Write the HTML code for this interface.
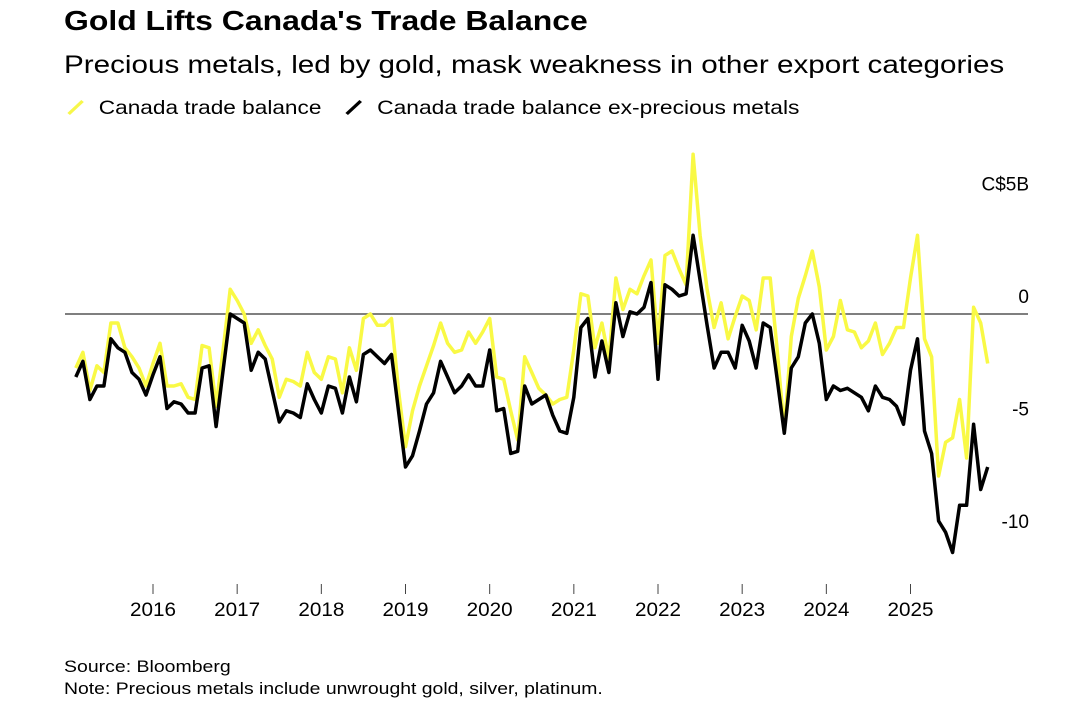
<!DOCTYPE html>
<html><head><meta charset="utf-8"><style>
body{margin:0;background:#fff;font-family:"Liberation Sans",Arial,sans-serif;}
#wrap{position:relative;width:1080px;height:710px;overflow:hidden;}
.t{position:absolute;white-space:nowrap;color:#000;transform-origin:0 0;}
</style></head><body>
<div id="wrap">
<div class="t" style="left:64px;top:5px;font-size:28px;font-weight:bold;transform:scaleX(1.14);">Gold Lifts Canada's Trade Balance</div>
<div class="t" style="left:64px;top:51px;font-size:25px;transform:scaleX(1.185);">Precious metals, led by gold, mask weakness in other export categories</div>
<div class="t" style="left:64px;top:97px;font-size:19.5px;transform:scaleX(1.16);"><svg width="20" height="18" style="vertical-align:-2px;margin-right:10px"><line x1="4" y1="16" x2="16" y2="3" stroke="#f7f74a" stroke-width="3"/></svg>Canada trade balance</div>
<div class="t" style="left:342px;top:97px;font-size:19.5px;transform:scaleX(1.17);"><svg width="20" height="18" style="vertical-align:-2px;margin-right:10px"><line x1="4" y1="16" x2="16" y2="3" stroke="#000" stroke-width="3"/></svg>Canada trade balance ex-precious metals</div>
<svg id="chart" width="1080" height="710" style="position:absolute;left:0;top:0"></svg>
<div class="t" style="left:64px;top:658px;font-size:16.5px;transform:scaleX(1.18);">Source: Bloomberg</div>
<div class="t" style="left:64px;top:680px;font-size:16.5px;transform:scaleX(1.175);">Note: Precious metals include unwrought gold, silver, platinum.</div>
</div>
<script>
const startMonth = [2015, 2];
const tradeBalance = [-2.4,-1.7,-3.4,-2.3,-2.6,-0.4,-0.4,-1.5,-1.9,-2.4,-3.2,-2.2,-1.3,-3.2,-3.2,-3.1,-3.7,-3.8,-1.4,-1.5,-4.1,-1.6,1.1,0.6,0.0,-1.3,-0.7,-1.4,-2.0,-3.7,-2.9,-3.0,-3.2,-1.7,-2.6,-2.9,-1.9,-2.0,-3.5,-1.5,-2.5,-0.2,0.0,-0.5,-0.5,-0.2,-3.4,-5.9,-4.3,-3.2,-2.3,-1.4,-0.4,-1.3,-1.7,-1.6,-0.8,-1.3,-0.8,-0.2,-2.8,-2.9,-4.3,-5.6,-1.9,-2.6,-3.3,-3.6,-4.0,-3.8,-3.7,-1.6,0.9,0.8,-1.5,-0.4,-2.0,1.6,0.2,1.1,0.9,1.7,2.4,-1.3,2.6,2.8,2.0,1.3,7.1,3.5,1.1,-0.6,0.5,-1.1,-0.1,0.8,0.6,-0.7,1.6,1.6,-1.6,-5.2,-1.0,0.7,1.7,2.8,1.2,-1.6,-1.0,0.6,-0.7,-0.8,-1.5,-1.2,-0.4,-1.8,-1.3,-0.6,-0.6,1.6,3.5,-1.1,-1.9,-7.2,-5.7,-5.5,-3.8,-6.4,0.3,-0.4,-2.2];
const exPrecious = [-2.8,-2.1,-3.8,-3.2,-3.2,-1.1,-1.5,-1.7,-2.6,-2.9,-3.6,-2.7,-1.9,-4.2,-3.9,-4.0,-4.4,-4.4,-2.4,-2.3,-5.0,-2.5,0.0,-0.2,-0.4,-2.5,-1.7,-2.0,-3.4,-4.8,-4.3,-4.4,-4.6,-3.1,-3.8,-4.4,-3.2,-3.3,-4.4,-2.8,-3.9,-1.8,-1.6,-1.9,-2.2,-1.8,-4.3,-6.8,-6.3,-5.2,-4.0,-3.5,-2.1,-2.8,-3.5,-3.2,-2.7,-3.2,-3.2,-1.6,-4.3,-4.2,-6.2,-6.1,-3.2,-4.0,-3.8,-3.6,-4.5,-5.2,-5.3,-3.7,-0.6,-0.2,-2.8,-1.2,-2.6,0.5,-1.0,0.1,0.0,0.3,1.4,-2.9,1.3,1.1,0.8,0.9,3.5,1.5,-0.5,-2.4,-1.7,-1.7,-2.4,-0.5,-1.2,-2.4,-0.4,-0.6,-2.9,-5.3,-2.4,-1.9,-0.4,0.0,-1.3,-3.8,-3.2,-3.4,-3.3,-3.5,-3.7,-4.3,-3.2,-3.7,-3.8,-4.1,-4.9,-2.5,-1.1,-5.2,-6.2,-9.2,-9.7,-10.6,-8.5,-8.5,-4.9,-7.8,-6.8];
const yTicks = [5, 0, -5, -10];
const yTickLabels = ["C$5B", "0", "-5", "-10"];
const xYears = [2016,2017,2018,2019,2020,2021,2022,2023,2024,2025];

const NS = "http://www.w3.org/2000/svg";
const svg = document.getElementById('chart');
function yScale(v){ return 314 - 22.5 * v; }
function xScaleDate(yr, mo){ return 153 + ((yr - 2016) * 12 + (mo - 1)) * 7.014; }
function xIdx(i){ return xScaleDate(startMonth[0], startMonth[1] + i); }
function mk(tag, attrs){ const e = document.createElementNS(NS, tag); for (const k in attrs) e.setAttribute(k, attrs[k]); svg.appendChild(e); return e; }

const zl = mk('line', {x1:65, x2:1028, y1:yScale(0), y2:yScale(0), stroke:'#555', 'stroke-width':1.5});



yTicks.forEach((v, i) => {
  const t = mk('text', {x:1029, y:yScale(v) - 11, 'text-anchor':'end', 'font-size':19, 'font-family':'Liberation Sans, Arial, sans-serif', fill:'#000'});
  t.textContent = yTickLabels[i];
  
  
});

xYears.forEach(yr => {
  const x = xScaleDate(yr, 1);
  const tk = mk('line', {x1:x, x2:x, y1:584, y2:594, stroke:'#444', 'stroke-width':1});
  
  
  const t = mk('text', {x:x, y:616, 'text-anchor':'middle', 'font-size':19, 'font-family':'Liberation Sans, Arial, sans-serif', fill:'#000', 'textLength':46, 'lengthAdjust':'spacingAndGlyphs'});
  t.textContent = String(yr);
  
  
});

function path(arr){ return arr.map((v,i)=>(i?'L':'M')+xIdx(i).toFixed(1)+','+yScale(v).toFixed(1)).join(''); }
const yl = mk('path', {d:path(tradeBalance), fill:'none', stroke:'#f9f945', 'stroke-width':3.5, 'stroke-linejoin':'round'});


const bl = mk('path', {d:path(exPrecious), fill:'none', stroke:'#000', 'stroke-width':3.5, 'stroke-linejoin':'round'});


</script>
</body></html>
